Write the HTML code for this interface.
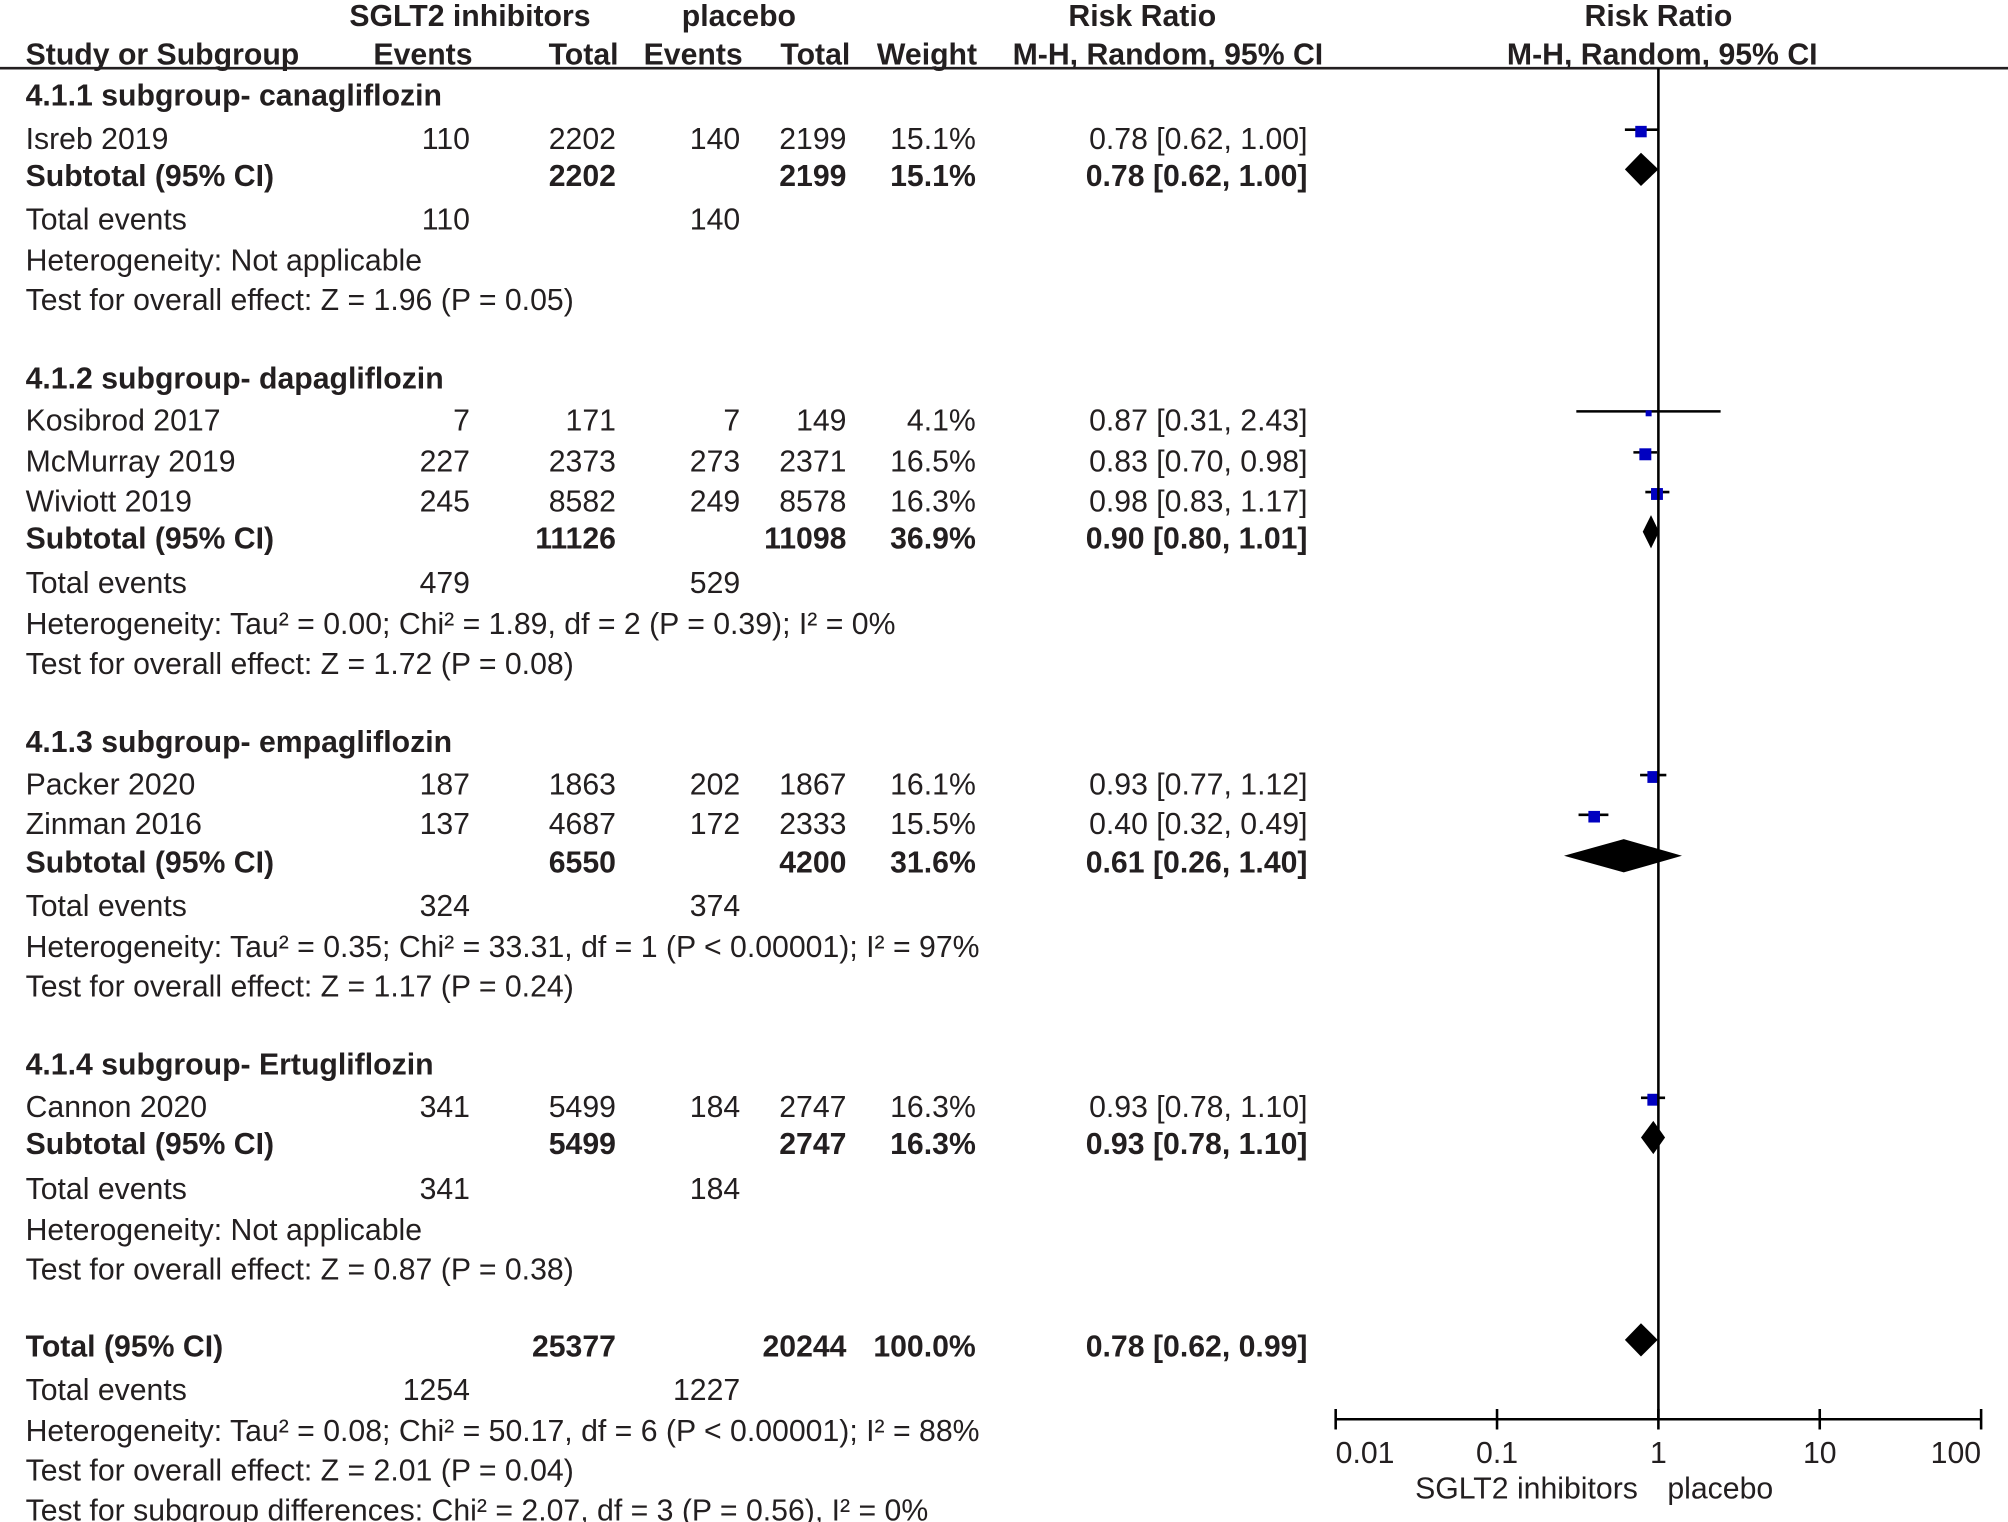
<!DOCTYPE html>
<html><head><meta charset="utf-8">
<style>
html,body{margin:0;padding:0;background:#fff;}
svg{display:block;}
text{font-family:"Liberation Sans",Arial,sans-serif;font-size:23.6px;fill:#231f20;}
.b{font-weight:bold;}
</style></head>
<body>
<svg id="chart" width="2008" height="1522" viewBox="0 0 1568 1188" xmlns="http://www.w3.org/2000/svg">
<g id="table"></g>
<g id="plot"></g>
</svg>
<script>
// ---- data ----
const rowLabels = ["4.1.1 subgroup- canagliflozin","Isreb 2019","Subtotal (95% CI)","Total events","Heterogeneity: Not applicable","Test for overall effect: Z = 1.96 (P = 0.05)",
"4.1.2 subgroup- dapagliflozin","Kosibrod 2017","McMurray 2019","Wiviott 2019","Subtotal (95% CI)","Total events","Heterogeneity: Tau² = 0.00; Chi² = 1.89, df = 2 (P = 0.39); I² = 0%","Test for overall effect: Z = 1.72 (P = 0.08)",
"4.1.3 subgroup- empagliflozin","Packer  2020","Zinman 2016","Subtotal (95% CI)","Total events","Heterogeneity: Tau² = 0.35; Chi² = 33.31, df = 1 (P < 0.00001); I² = 97%","Test for overall effect: Z = 1.17 (P = 0.24)",
"4.1.4 subgroup- Ertugliflozin","Cannon 2020","Subtotal (95% CI)","Total events","Heterogeneity: Not applicable","Test for overall effect: Z = 0.87 (P = 0.38)",
"Total (95% CI)","Total events","Heterogeneity: Tau² = 0.08; Chi² = 50.17, df = 6 (P < 0.00001); I² = 88%","Test for overall effect: Z = 2.01 (P = 0.04)","Test for subgroup differences: Chi² = 2.07, df = 3 (P = 0.56), I² = 0%"];
const rowKinds = ["h","s","t","e","n","n","h","s","s","s","t","e","n","n","h","s","s","t","e","n","n","h","s","t","e","n","n","T","e","n","n","n"];
const rowBaselines = [82,116,145,179,211,242,303,336,368,399,428,463,495,526,587,620,651,681,715,747,778,839,872,901,936,968,999,1059,1093,1125,1156,1187];
const events1 = ["","110","","110","","","","7","227","245","","479","","","","187","137","","324","","","","341","","341","","","","1254","","",""];
const total1  = ["","2202","2202","","","","","171","2373","8582","11126","","","","","1863","4687","6550","","","","","5499","5499","","","","25377","","","",""];
const events2 = ["","140","","140","","","","7","273","249","","529","","","","202","172","","374","","","","184","","184","","","","1227","","",""];
const total2  = ["","2199","2199","","","","","149","2371","8578","11098","","","","","1867","2333","4200","","","","","2747","2747","","","","20244","","","",""];
const weights = [null,15.1,15.1,null,null,null,null,4.1,16.5,16.3,36.9,null,null,null,null,16.1,15.5,31.6,null,null,null,null,16.3,16.3,null,null,null,100.0,null,null,null,null];
const rr = [null,0.78,0.78,null,null,null,null,0.87,0.83,0.98,0.90,null,null,null,null,0.93,0.40,0.61,null,null,null,null,0.93,0.93,null,null,null,0.78,null,null,null,null];
const lo = [null,0.62,0.62,null,null,null,null,0.31,0.70,0.83,0.80,null,null,null,null,0.77,0.32,0.26,null,null,null,null,0.78,0.78,null,null,null,0.62,null,null,null,null];
const hi = [null,1.00,1.00,null,null,null,null,2.43,0.98,1.17,1.01,null,null,null,null,1.12,0.49,1.40,null,null,null,null,1.10,1.10,null,null,null,0.99,null,null,null,null];
const tickValues = [0.01,0.1,1,10,100];
const tickLabels = ["0.01","0.1","1","10","100"];

// ---- scales ----
const X0 = 1043, X1 = 1547;
function xs(v){ return X0 + (Math.log10(v) + 2) / 4 * (X1 - X0); }
const NS = "http://www.w3.org/2000/svg";
const table = document.getElementById('table');
const plot = document.getElementById('plot');
function mk(tag, attrs, parent){ const e=document.createElementNS(NS,tag); for(const k in attrs) e.setAttribute(k,attrs[k]); parent.appendChild(e); return e; }
function txt(s,x,y,anchor,bold,parent){ const t=mk('text',{x:x,y:y,'text-anchor':anchor},parent); if(bold) t.setAttribute('class','b'); t.textContent=s; return t; }
function fmt(v){ return v.toFixed(2); }

let h;
h = txt("SGLT2 inhibitors",367,20,"middle",true,table);


h = txt("placebo",577,20,"middle",true,table);


h = txt("Risk Ratio",892,20,"middle",true,table);


h = txt("Risk Ratio",1295,20,"middle",true,plot);


const colHeads = [["Study or Subgroup",20,"start"],["Events",369,"end"],["Total",483,"end"],["Events",580,"end"],["Total",664,"end"],["Weight",763,"end"],["M-H, Random, 95% CI",912,"middle"]];
colHeads.forEach(c=>{ const t=txt(c[0],c[1],50,c[2],true,table);
  
   });
h = txt("M-H, Random, 95% CI",1298,50,"middle",true,plot);


let ln = mk('line',{x1:0,y1:53,x2:1568,y2:53,stroke:'#231f20','stroke-width':2},table);



rowLabels.forEach((lab,i)=>{
  const y = rowBaselines[i], k = rowKinds[i];
  const bold = (k==="h"||k==="t"||k==="T");
  const t = txt(lab,20,y,"start",bold,table);
  
  
  const nb = (k==="t"||k==="T");
  if(events1[i]) { const e=txt(events1[i],367,y,"end",nb,table);   }
  if(total1[i]) { const e=txt(total1[i],481,y,"end",nb,table);   }
  if(events2[i]) { const e=txt(events2[i],578,y,"end",nb,table);   }
  if(total2[i]) { const e=txt(total2[i],661,y,"end",nb,table);   }
  if(weights[i]!==null) { const e=txt(weights[i].toFixed(1)+"%",762,y,"end",nb,table);   }
  if(rr[i]!==null){
    const e=txt(fmt(rr[i])+" ["+fmt(lo[i])+", "+fmt(hi[i])+"]",1021,y,"end",nb,table);
    
    
    if(k==="s"){
      const cy = y-15;
      const l = mk('line',{x1:xs(lo[i]),y1:cy,x2:xs(hi[i]),y2:cy,stroke:'#000','stroke-width':2},plot);
      
      
      const s = Math.sqrt(weights[i])*2.3;
      const r = mk('rect',{x:xs(rr[i])-s/2,y:cy-s/2+1.5,width:s,height:s,fill:'#0000c0'},plot);
      
      
    } else {
      const cy = y-13, hh = 13;
      const p = mk('polygon',{points:`${xs(lo[i])},${cy} ${xs(rr[i])},${cy-hh} ${xs(hi[i])},${cy} ${xs(rr[i])},${cy+hh}`,fill:'#000'},plot);
      
      
    }
  }
});

const AY = 1108;
ln = mk('line',{x1:xs(1),y1:53,x2:xs(1),y2:AY,stroke:'#000','stroke-width':2},plot);


ln = mk('line',{x1:X0,y1:AY,x2:X1,y2:AY,stroke:'#000','stroke-width':2},plot);


tickValues.forEach((v,i)=>{
  const tk = mk('line',{x1:xs(v),y1:AY-8,x2:xs(v),y2:AY+8,stroke:'#000','stroke-width':2},plot);
  
  
  const anc = i===0 ? "start" : (i===tickValues.length-1 ? "end" : "middle");
  const tl = txt(tickLabels[i], xs(v), 1142, anc, false, plot);
  
  
});
h = txt("SGLT2 inhibitors",1279,1170,"end",false,plot);


h = txt("placebo",1302,1170,"start",false,plot);


</script>
</body></html>
